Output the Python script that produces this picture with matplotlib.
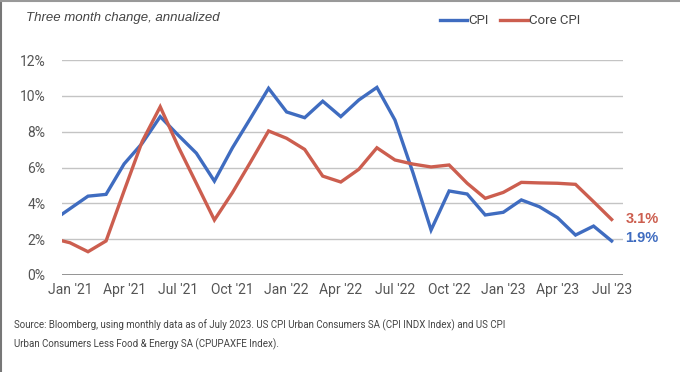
import matplotlib
matplotlib.use("Agg")
import matplotlib.pyplot as plt
from matplotlib.lines import Line2D

# monthly values, Dec 2020 .. Jul 2023 (Dec '20 only feeds the clipped start of the line)
months = list(range(-1, 31))
cpi = [3.0, 3.7, 4.4, 4.5, 6.2, 7.35, 8.84, 7.8, 6.8, 5.24, 7.1, 8.75,
       10.42, 9.1, 8.78, 9.7, 8.84, 9.77, 10.47, 8.65, 5.7, 2.51,
       4.69, 4.52, 3.35, 3.5, 4.19, 3.81, 3.2, 2.23, 2.73, 1.9]
core_cpi = [2.05, 1.8, 1.3, 1.9, 4.7, 7.45, 9.39, 7.16, 5.12, 3.07, 4.6, 6.3,
            8.04, 7.63, 7.01, 5.52, 5.19, 5.9, 7.1, 6.42, 6.19, 6.03,
            6.14, 5.12, 4.28, 4.61, 5.17, 5.14, 5.12, 5.06, 4.09, 3.1]
tick_pos = [0, 3, 6, 9, 12, 15, 18, 21, 24, 27, 30]
tick_labels = ["Jan '21", "Apr '21", "Jul '21", "Oct '21", "Jan '22", "Apr '22",
               "Jul '22", "Oct '22", "Jan '23", "Apr '23", "Jul '23"]
y_ticks = [0, 2, 4, 6, 8, 10, 12]

BLUE = "#3f6cc0"
RED = "#cc5e4f"
TXT = "#555555"

plt.rcParams['font.family'] = ['Roboto', 'DejaVu Sans']

fig = plt.figure(figsize=(6.8, 3.72), dpi=100)
ax = fig.add_axes([62 / 680, 1 - 275 / 372, (623 - 62) / 680, (275 - 60) / 372])

ax.plot(months, cpi, color=BLUE, lw=2.4, solid_joinstyle='miter', zorder=3)
ax.plot(months, core_cpi, color=RED, lw=2.4, solid_joinstyle='miter', zorder=3)

ax.set_xlim(-0.44, 30.63)
ax.set_ylim(0, 12)
ax.set_yticks(y_ticks)
ax.set_yticklabels([f"{v}%" for v in y_ticks])
ax.set_xticks(tick_pos)
ax.set_xticklabels(tick_labels)
ax.tick_params(axis='both', length=0, labelsize=10, colors=TXT)
ax.tick_params(axis='y', pad=12)
ax.tick_params(axis='x', pad=6)

for v in y_ticks[1:]:
    ax.axhline(v, color="#c4c4c4", lw=1, zorder=1)
ax.axhline(0, color="#8a8a8a", lw=2, zorder=2)
for s in ax.spines.values():
    s.set_visible(False)

# end labels
ax.annotate(f"{core_cpi[-1]:.1f}%", xy=(30, core_cpi[-1]), xytext=(14, 0),
            textcoords='offset pixels', color=RED, fontweight='bold', fontsize=10.5,
            va='center', ha='left', family=['Liberation Sans', 'DejaVu Sans'])
ax.annotate(f"{cpi[-1]:.1f}%", xy=(30, cpi[-1]), xytext=(14, 3),
            textcoords='offset pixels', color=BLUE, fontweight='bold', fontsize=10.5,
            va='center', ha='left', family=['Liberation Sans', 'DejaVu Sans'])

fig.text(26 / 680, 1 - 18 / 372, "Three month change, annualized", style='italic',
         fontsize=9.5, color="#444444", va='center', ha='left',
         family=['Liberation Sans', 'DejaVu Sans'])

handles = [Line2D([], [], color=BLUE, lw=2.4), Line2D([], [], color=RED, lw=2.4)]
fig.legend(handles, ["CPI", "Core CPI"], loc='center left',
           bbox_to_anchor=(428 / 680, 1 - 21 / 372), ncol=2, frameon=False,
           fontsize=9.5, handlelength=2.05, handletextpad=0.1, columnspacing=0.9,
           labelcolor="#444444")

fig.text(14 / 680, 1 - 325 / 372,
         "Source: Bloomberg, using monthly data as of July 2023. US CPI Urban Consumers SA (CPI INDX Index) and US CPI",
         fontsize=7, color="#444444", va='center', ha='left')
fig.text(14 / 680, 1 - 344 / 372,
         "Urban Consumers Less Food & Energy SA (CPUPAXFE Index).",
         fontsize=7, color="#444444", va='center', ha='left')

# frame edges visible at left and top of the reference
fig.add_artist(Line2D([0.5 / 680, 0.5 / 680], [0, 1], color="#777777", lw=1.5, transform=fig.transFigure))
fig.add_artist(Line2D([0, 1], [1 - 0.5 / 372, 1 - 0.5 / 372], color="#999999", lw=1.5, transform=fig.transFigure))

fig.savefig("out.png", dpi=100, facecolor="white")
